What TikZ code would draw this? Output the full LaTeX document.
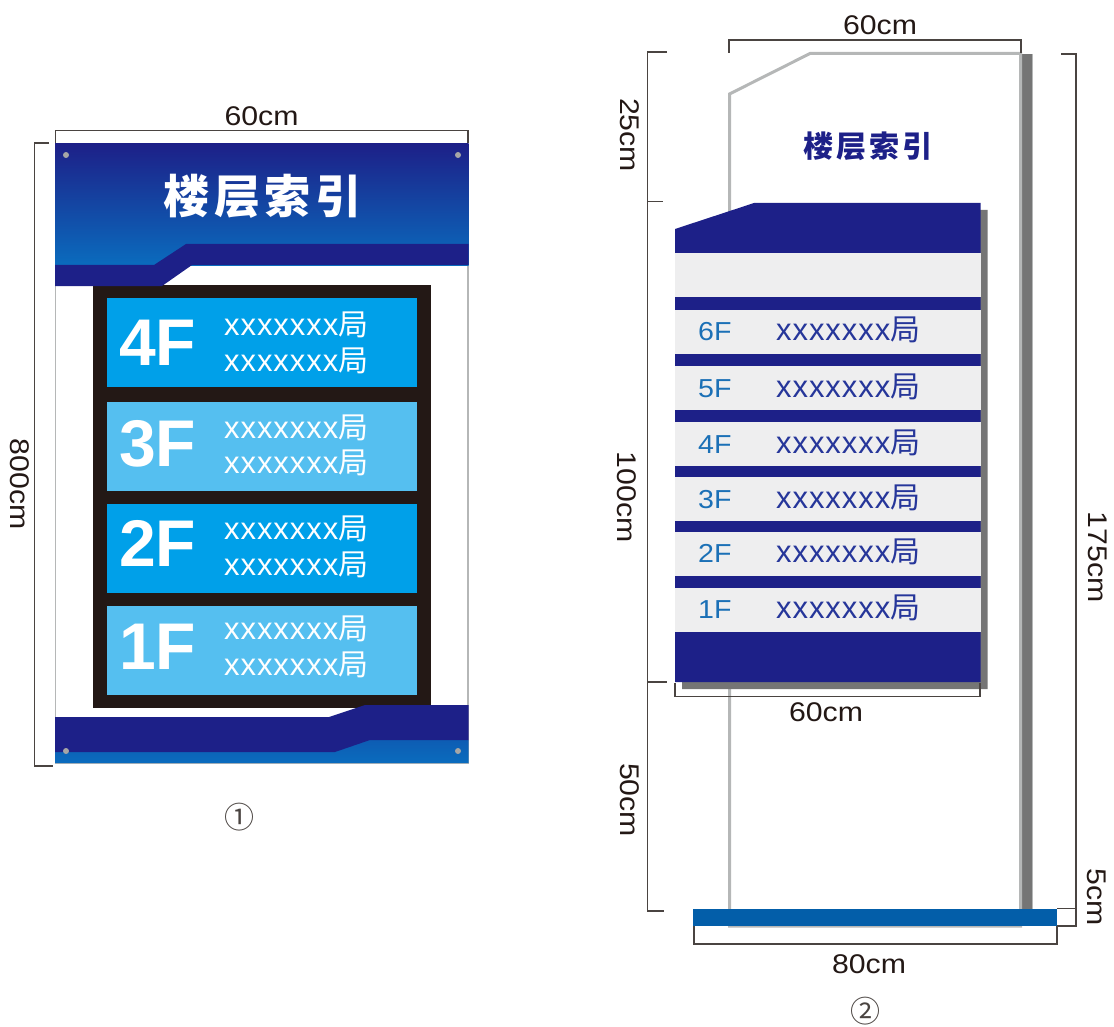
\documentclass[tikz,border=0pt]{standalone}
\usepackage{fontspec}
\setmainfont{Liberation Sans}
\newfontfamily\cjk{Noto Sans CJK SC}
\newfontfamily\cjkt[LetterSpace=10]{Noto Sans CJK SC}
\newfontfamily\dimf[FakeStretch=1.12]{Liberation Sans}
\newfontfamily\itemf[LetterSpace=3]{Liberation Sans}
\newfontfamily\floorf[FakeStretch=1.1]{Liberation Sans}
\definecolor{navy}{HTML}{1D2088}
\definecolor{gradb}{HTML}{0A6CBE}
\definecolor{cyanA}{HTML}{00A0E9}
\definecolor{cyanB}{HTML}{55BFF0}
\definecolor{frameblk}{HTML}{231815}
\definecolor{dimc}{HTML}{4A4441}
\definecolor{postg}{HTML}{B5B7B7}
\definecolor{shad}{HTML}{757575}
\definecolor{rowg}{HTML}{EEEEEF}
\definecolor{baseb}{HTML}{035EA9}
\definecolor{floorb}{HTML}{1B70B6}
\definecolor{itemb}{HTML}{26369A}
\definecolor{txtd}{HTML}{231815}
\newcommand{\fs}[1]{\fontsize{#1}{#1}\selectfont}
\tikzset{
  x=1pt,y=-1pt,
  dimline/.style={draw=dimc,line width=1.2pt},
  dimtext/.style={inner sep=0pt,text=txtd,font=\dimf\fs{27}},
  bigf/.style={anchor=base west,inner sep=0pt,text=white,font=\fs{66}\bfseries},
  item1/.style={anchor=base west,inner sep=0pt,text=white,font=\itemf\fs{31}},
  floor2/.style={anchor=base west,inner sep=0pt,text=floorb,font=\floorf\fs{26}},
  item2/.style={anchor=base west,inner sep=0pt,text=itemb,font=\itemf\fs{31}},
  rivet/.style={fill=gray!70,draw=none},
  circnum/.style={inner sep=0pt,text=dimc,font=\cjk\fs{30}},
}
\begin{document}
\begin{tikzpicture}
\useasboundingbox (0,0) rectangle (1114,1027);
% ---- panel 1
\draw[postg,line width=1.2pt] (55.5,280) -- (55.5,763) -- (468,763) -- (468,260);
\shade[top color=navy,bottom color=gradb] (55,144) rectangle (468.5,266);
\shade[top color=gradb!80!navy,bottom color=gradb] (334,740) -- (468.5,740) -- (468.5,763) -- (55,763) -- (55,750) -- (334,750) -- cycle;
\fill[frameblk] (93,285) rectangle (431,708);
\fill[navy] (55,265) -- (154,265) -- (186,244) -- (468.5,244) -- (468.5,265) -- (192,265) -- (162,286) -- (55,286) -- cycle;
\fill[navy] (55,717) -- (329,717) -- (365,705) -- (468.5,705) -- (468.5,740) -- (370,740) -- (335,752) -- (55,752) -- cycle;
\foreach \yy/\cc in {298/cyanA,401.5/cyanB,503.5/cyanA,606/cyanB}
  \fill[\cc] (107,\yy) rectangle (417,\yy+89);
\foreach \xx/\yy in {66/155,458/155,66/751,458/751}
  \fill[rivet] (\xx,\yy) circle (3);
\node[inner sep=0pt,text=white,font=\cjkt\fs{46}\bfseries] (t1) at (262.5,196) {楼层索引};
\node[bigf] (f4) at (119,365) {4F};
\node[bigf] (f3) at (119,466) {3F};
\node[bigf] (f2) at (119,566) {2F};
\node[bigf] (f1) at (119,669) {1F};
\foreach \nm/\yy in {a/335,b/371,c/438,d/473,e/539,f/575,g/639,h/675}
  \node[item1] (i\nm) at (224,\yy) {xxxxxxx{\cjk\fs{30}局}};
% dims panel 1
\draw[dimline] (55.5,143) -- (55.5,130.5) -- (468,130.5) -- (468,143);
\draw[dimline] (49,143) -- (34.5,143) -- (34.5,766) -- (53,766);
\node[dimtext] (d1) at (261.5,116) {60cm};
\node[dimtext,rotate=-90] (d2) at (20,484) {800cm};
\node[circnum] (c1) at (239,817) {①};
% ---- panel 2
\fill[shad] (1022,54) rectangle (1032,910);
\draw[postg,line width=1.6pt] (1032.5,54) -- (1032.5,910);
\draw[postg,line width=3pt,line join=miter] (729.5,926) -- (729.5,94) -- (810,53.5) -- (1020.5,53.5) -- (1020.5,926) -- cycle;
\node[inner sep=0pt,text=navy,font=\cjkt\fs{30}\bfseries] (t2) at (868,146) {楼层索引};
\fill[shad] (760,210) -- (987.5,210) -- (987.5,689) -- (682,689) -- (682,300) -- cycle;
\fill[navy] (675,229) -- (754,203) -- (980.5,203) -- (980.5,682) -- (675,682) -- cycle;
\foreach \yy in {253.5,310,366,422,477,532,588}
  \fill[rowg] (675,\yy) rectangle (980.5,\yy+43.5);
\fill[baseb] (693,908.5) rectangle (1057,926);
\foreach \nm/\yy in {6/340,5/397,4/453,3/508,2/562,1/618}{
  \node[floor2] (fl\nm) at (698,\yy) {\nm F};
  \node[item2] (it\nm) at (776,\yy) {xxxxxxx{\cjk\fs{30}局}};
}
% dims panel 2
\draw[dimline] (729,53) -- (729,40) -- (1021,40) -- (1021,53);
\draw[dimline] (667,52) -- (647.5,52) -- (647.5,911) -- (664,911);
\draw[dimline] (647.5,201.5) -- (663,201.5);
\draw[dimline] (647.5,682) -- (667,682);
\draw[dimline] (1061,54) -- (1076,54) -- (1076,926) -- (1057,926);
\draw[dimline] (1057,908.5) -- (1076,908.5);
\draw[dimline] (675,683) -- (675,696.5) -- (980,696.5) -- (980,683);
\draw[dimline] (694,926) -- (694,944) -- (1057,944) -- (1057,926);
\node[dimtext] (d3) at (880,25) {60cm};
\node[dimtext,rotate=-90] (d4) at (630,135) {25cm};
\node[dimtext,rotate=-90] (d5) at (627,497) {100cm};
\node[dimtext,rotate=-90] (d6) at (630,800) {50cm};
\node[dimtext,rotate=-90] (d7) at (1098,557) {175cm};
\node[dimtext,rotate=-90] (d8) at (1097,897) {5cm};
\node[dimtext] (d9) at (826,712) {60cm};
\node[dimtext] (d10) at (869,964) {80cm};
\node[circnum] (c2) at (865,1011.5) {②};
\end{tikzpicture}
\end{document}
